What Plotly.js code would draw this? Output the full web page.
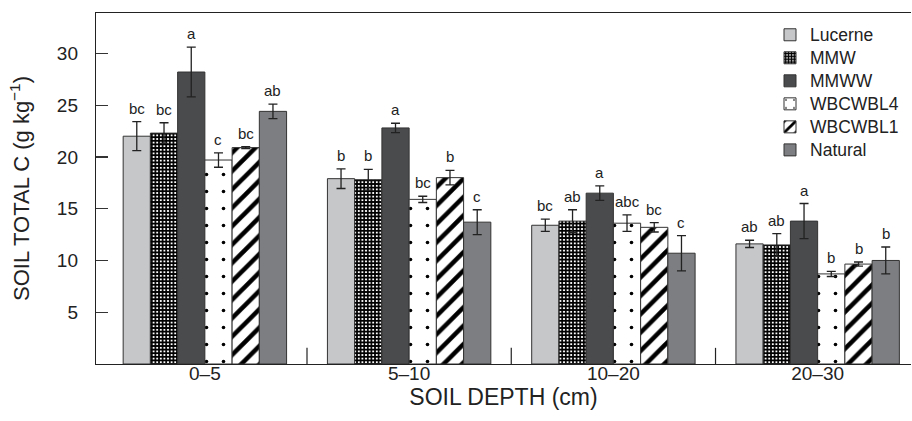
<!DOCTYPE html>
<html>
<head>
<meta charset="utf-8">
<script src="https://cdn.plot.ly/plotly-3.0.1.min.js"></script>
<style>html,body{margin:0;padding:0;background:#fff}#chart{width:912px;height:421px}</style>
</head>
<body>
<div id="chart"></div>
<script>
const depths = ['0–5', '5–10', '10–20', '20–30'];
const seriesNames = ['Lucerne', 'MMW', 'MMWW', 'WBCWBL4', 'WBCWBL1', 'Natural'];

const lucerne    = [22.0, 17.9, 13.4, 11.6];
const lucerneErr = [1.4, 0.95, 0.6, 0.35];
const mmw        = [22.3, 17.8, 13.8, 11.5];
const mmwErr     = [1.0, 1.0, 1.1, 1.1];
const mmww       = [28.2, 22.8, 16.5, 13.8];
const mmwwErr    = [2.4, 0.45, 0.7, 1.7];
const wbcwbl4    = [19.7, 15.9, 13.6, 8.7];
const wbcwbl4Err = [0.7, 0.3, 0.8, 0.25];
const wbcwbl1    = [20.9, 18.0, 13.2, 9.65];
const wbcwbl1Err = [0.1, 0.7, 0.45, 0.2];
const natural    = [24.4, 13.7, 10.7, 10.0];
const naturalErr = [0.7, 1.2, 1.7, 1.3];

const lucerneLetters = ['bc', 'b', 'bc', 'ab'];
const mmwLetters     = ['bc', 'b', 'ab', 'ab'];
const mmwwLetters    = ['a', 'a', 'a', 'a'];
const wbcwbl4Letters = ['c', 'bc', 'abc', 'b'];
const wbcwbl1Letters = ['bc', 'b', 'bc', 'b'];
const naturalLetters = ['ab', 'c', 'c', 'b'];

const yTicks = [5, 10, 15, 20, 25, 30];

const values  = [lucerne, mmw, mmww, wbcwbl4, wbcwbl1, natural];
const errors  = [lucerneErr, mmwErr, mmwwErr, wbcwbl4Err, wbcwbl1Err, naturalErr];
const letters = [lucerneLetters, mmwLetters, mmwwLetters, wbcwbl4Letters, wbcwbl1Letters, naturalLetters];

const edge = '#333333';
const styles = [
  {color: '#c6c7c9'},
  {color: '#ffffff', pattern: {shape: '+', fgcolor: '#000000', bgcolor: '#ffffff', size: 3.6, solidity: 0.72, fillmode: 'replace'}},
  {color: '#4a4b4d'},
  {color: '#ffffff', pattern: {shape: '.', fgcolor: '#000000', bgcolor: '#ffffff', size: 17, solidity: 0.035, fillmode: 'replace'}},
  {color: '#ffffff', pattern: {shape: '/', fgcolor: '#000000', bgcolor: '#ffffff', size: 13, solidity: 0.35, fillmode: 'replace'}},
  {color: '#7d7e81'}
];

const bargap = 0.2;
const nS = seriesNames.length;
const barW = (1 - bargap) / nS;

const traces = seriesNames.map((name, i) => ({
  type: 'bar',
  name: '<span style="font-size:17.5px">' + name + '</span>',
  x: depths,
  y: values[i],
  marker: Object.assign({line: {color: edge, width: 1}}, styles[i]),
  error_y: {type: 'data', array: errors[i], visible: true, color: '#222', thickness: 1.3, width: 4.5},
  hoverinfo: 'skip'
}));

const annotations = [];
seriesNames.forEach((name, i) => {
  depths.forEach((d, j) => {
    annotations.push({
      x: j - (1 - bargap) / 2 + (i + 0.5) * barW,
      y: values[i][j] + errors[i][j],
      xref: 'x', yref: 'y',
      text: letters[i][j],
      showarrow: false,
      yanchor: 'bottom',
      yshift: 3,
      font: {family: 'Liberation Sans, Arial, sans-serif', size: 15, color: '#222'}
    });
  });
});

const shapes = [];
for (let j = 1; j < depths.length; j++) {
  shapes.push({type: 'line', xref: 'x', yref: 'paper', x0: j - 0.5, x1: j - 0.5, y0: 0, y1: 0.046,
    line: {color: '#222', width: 1.2}});
}

const layout = {
  width: 912, height: 421,
  margin: {l: 96, r: 1, t: 13, b: 57},
  paper_bgcolor: '#fff', plot_bgcolor: '#fff',
  barmode: 'group', bargap: bargap, bargroupgap: 0,
  font: {family: 'Liberation Sans, Arial, sans-serif', color: '#222'},
  showlegend: true,
  legend: {x: 0.827, xanchor: 'left', y: 0.985, yanchor: 'top', bgcolor: 'rgba(0,0,0,0)',
    font: {size: 15.4, color: '#222'}, tracegroupgap: 0},
  xaxis: {
    type: 'category', range: [-0.533, 3.457],
    showline: true, linecolor: '#222', linewidth: 1.2, mirror: true,
    ticks: '', showgrid: false, zeroline: false,
    ticklabelstandoff: -8,
    tickfont: {size: 19, color: '#222'},
    title: {text: 'SOIL DEPTH (cm)', font: {size: 23, color: '#222'}, standoff: 0}
  },
  yaxis: {
    range: [0, 33.9], tickvals: yTicks,
    showline: true, linecolor: '#222', linewidth: 1.2,
    ticks: 'inside', ticklen: 12, tickcolor: '#333', tickwidth: 1.2,
    showgrid: false, zeroline: false,
    ticklabelstandoff: 13,
    tickfont: {size: 19, color: '#222'},
    title: {text: 'SOIL TOTAL C (g kg<sup>−1</sup>)', font: {size: 22, color: '#222'}, standoff: 21}
  },
  annotations: annotations,
  shapes: shapes
};

Plotly.newPlot('chart', traces, layout, {staticPlot: true, displayModeBar: false});
</script>
</body>
</html>
